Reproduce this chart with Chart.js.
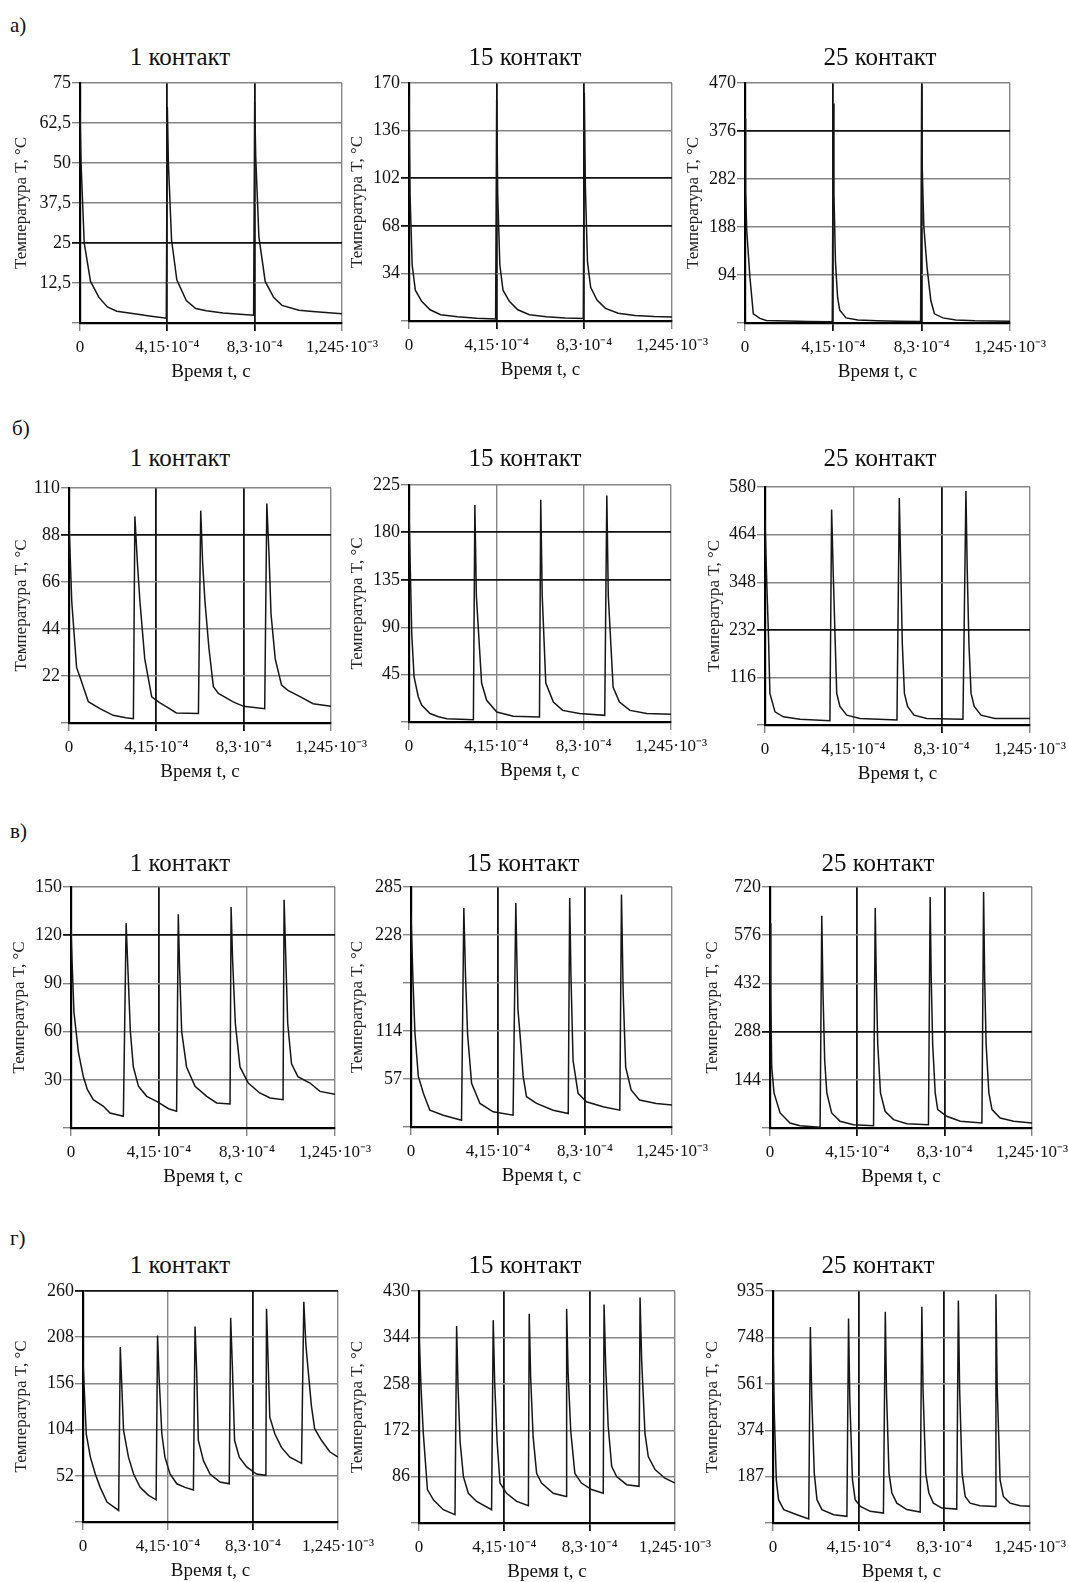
<!DOCTYPE html>
<html><head><meta charset="utf-8">
<script src="https://cdn.jsdelivr.net/npm/chart.js@4.4.1/dist/chart.umd.min.js"></script>
<style>
body{margin:0;background:#fff;width:1069px;height:1582px;position:relative;overflow:hidden;font-family:'Liberation Serif','Times New Roman',serif;color:#111}
canvas{position:absolute}
.t{position:absolute;width:240px;text-align:center;font-size:25px;line-height:28px;white-space:nowrap}
.r{position:absolute;font-size:21px;line-height:24px}
</style></head><body>
<div class="r" style="left:10px;top:13px">а)</div>
<div class="r" style="left:12px;top:416px">б)</div>
<div class="r" style="left:10px;top:819px">в)</div>
<div class="r" style="left:10px;top:1226px">г)</div>
<script>
// x axis in units of 10^-4 s
const X_TICKS = [0, 4.15, 8.3, 12.45];
const X_LABELS = ['0', '4,15·10⁻⁴', '8,3·10⁻⁴', '1,245·10⁻³'];
const TITLES = ['1 контакт', '15 контакт', '25 контакт'];

// ---- row а ----
const A1_Y = [0,12.5,25,37.5,50,62.5,75];
const A1_YL = ['','12,5','25','37,5','50','62,5','75'];
const A1 = [[0,66],[0.05,50],[0.2,25],[0.5,13],[0.9,8],[1.3,5],[1.75,3.7],[2.5,3.0],[3.3,2.2],[4.1,1.5],
  [4.15,67.5],[4.2,50],[4.35,26],[4.6,13.5],[5.05,7],[5.5,4.5],[6.0,3.8],[6.8,3.1],[7.6,2.7],[8.25,2.4],
  [8.3,69],[8.35,52],[8.5,27],[8.8,13],[9.2,8],[9.6,5.5],[10.4,4],[11.2,3.5],[12.45,2.9]];
const A2_Y = [0,34,68,102,136,170];
const A2 = [[0,160],[0.05,90],[0.15,40],[0.3,22],[0.6,14],[1.0,8],[1.5,4.5],[2.3,3],[3.2,2],[4.1,1.5],
  [4.15,158],[4.2,90],[4.3,40],[4.45,22],[4.75,14],[5.15,8],[5.7,4.5],[6.5,3],[7.4,2.2],[8.25,1.8],
  [8.3,163],[8.35,95],[8.45,42],[8.6,24],[8.9,15],[9.3,9],[9.9,5.5],[10.7,4],[11.6,3.2],[12.45,2.8]];
const A3_Y = [0,94,188,282,376,470];
const A3 = [[0,400],[0.03,260],[0.08,182],[0.23,90],[0.39,18],[0.7,9],[1.0,5],[2,4],[3,3],[4.1,2.5],
  [4.15,430],[4.18,250],[4.25,120],[4.35,50],[4.45,25],[4.75,10],[5.3,6],[6.2,4.5],[7.2,3.5],[8.25,3],
  [8.3,465],[8.33,300],[8.4,190],[8.55,110],[8.73,44],[8.9,18],[9.3,10],[9.9,6],[10.8,4.5],[12.45,3.5]];

// ---- row б ----
const B1_Y = [0,22,44,66,88,110];
const B1 = [[0,94],[0.13,57],[0.36,26],[0.52,21.5],[0.92,10],[1.47,6.7],[2.1,3.6],[2.7,2.5],[3.06,2],
  [3.13,96.7],[3.25,75],[3.37,57],[3.6,30],[3.93,12.2],[4.3,9.5],[4.64,7.5],[5.1,4.7],[6.15,4.4],
  [6.26,99.4],[6.35,75],[6.46,57],[6.65,35],[6.86,17],[7.1,13.8],[7.8,9.9],[8.3,7.8],[9.3,6.7],
  [9.4,102.7],[9.5,80],[9.6,51],[9.8,30],[10.1,17.7],[10.4,15.3],[11,12.2],[11.6,9],[12.45,7.8]];
const B2_Y = [0,45,90,135,180,225];
const B2 = [[0,201],[0.13,84],[0.24,43],[0.44,24],[0.6,16],[1.0,8],[1.4,5],[1.8,3.2],[3.06,2.2],
  [3.13,206],[3.2,120],[3.45,37],[3.69,20.6],[4.17,9.5],[4.96,5.4],[6.2,4.8],
  [6.26,211],[6.33,120],[6.5,37],[6.86,19],[7.3,11],[8.1,8],[9.3,6.3],
  [9.4,215],[9.47,120],[9.7,33],[10.0,19],[10.5,11],[11.3,8],[12.45,7.3]];
const B3_Y = [0,116,232,348,464,580];
const B3 = [[0,500],[0.08,350],[0.16,224],[0.23,77],[0.47,32],[0.86,20],[1.64,14],[3.05,10.6],
  [3.13,525],[3.2,380],[3.3,200],[3.37,77],[3.52,45],[3.84,24],[4.46,16],[6.2,12],
  [6.31,553],[6.38,380],[6.45,200],[6.55,77],[6.7,45],[7.0,24],[7.6,16],[9.3,14],
  [9.44,570],[9.5,380],[9.58,200],[9.68,77],[9.83,45],[10.15,24],[10.8,16],[12.45,16]];

// ---- row в ----
const V1_Y = [0,30,60,90,120,150];
const V1 = [[0,123],[0.06,100],[0.14,72],[0.35,47],[0.58,32],[0.77,24],[1.05,17.6],[1.53,13.5],[1.84,9.3],[2.47,7.3],
  [2.6,127.5],[2.68,100],[2.8,60],[2.94,38],[3.18,26],[3.57,19.7],[4.04,16.6],[4.6,12],[4.98,10.4],
  [5.06,133],[5.12,100],[5.22,60],[5.45,38],[5.85,26],[6.4,19.7],[6.87,15.6],[7.5,15],
  [7.55,137.5],[7.62,105],[7.75,65],[7.97,38],[8.36,28],[8.9,21.8],[9.39,18.7],[10.0,17.6],
  [10.05,142],[10.12,110],[10.22,65],[10.4,40],[10.7,32],[11.27,28],[11.74,22.8],[12.45,21]];
const V2_Y = [0,57,114,171,228,285];
const V2_YL = ['','57','114','','228','285'];
const V2 = [[0,252],[0.1,170],[0.19,111],[0.35,60],[0.59,40],[0.9,20],[1.54,14],[2.41,8],
  [2.52,260],[2.6,180],[2.7,110],[2.89,52],[3.29,28],[3.92,18],[4.87,14],
  [5.0,266],[5.05,200],[5.1,140],[5.2,110],[5.35,60],[5.51,36],[5.99,28],[6.78,20],[7.5,16],
  [7.57,272],[7.63,180],[7.73,79],[7.97,40],[8.37,30],[9.16,24],[9.96,20],
  [10.04,276],[10.12,160],[10.24,71],[10.5,44],[10.9,32],[11.7,28],[12.45,26]];
const V3_Y = [0,144,288,432,576,720];
const V3 = [[0,612],[0.04,400],[0.08,184],[0.19,105],[0.48,45],[0.95,15],[1.43,7],[2.38,2],
  [2.46,634],[2.52,400],[2.6,200],[2.7,105],[2.93,45],[3.33,20],[3.97,10],[4.92,7],
  [5.0,657],[5.05,450],[5.12,250],[5.25,105],[5.47,50],[5.87,25],[6.5,13],[7.53,10],
  [7.61,690],[7.66,450],[7.73,250],[7.85,105],[7.97,55],[8.4,35],[9.04,20],[10.07,15],
  [10.15,705],[10.2,450],[10.27,250],[10.4,105],[10.55,55],[10.94,30],[11.58,20],[12.45,15]];

// ---- row г ----
const G1_Y = [0,52,104,156,208,260];
const G1 = [[0,182],[0.08,140],[0.16,99],[0.36,73],[0.6,54],[0.84,39],[1.17,22.5],[1.74,13],
  [1.82,197],[1.9,150],[1.98,103],[2.22,73],[2.47,54],[2.79,39],[3.2,30],[3.57,25],
  [3.64,210],[3.72,160],[3.85,99],[4.0,73],[4.25,54],[4.58,43],[4.98,39],[5.39,36],
  [5.47,220],[5.55,170],[5.63,92],[5.88,69],[6.2,54],[6.69,45],[7.14,43],
  [7.21,230],[7.3,170],[7.4,92],[7.63,73],[7.99,62],[8.47,54],[8.93,52.5],
  [8.96,240],[9.04,180],[9.12,118],[9.37,99],[9.69,84],[10.1,73],[10.67,66],
  [10.78,248],[10.88,200],[11.0,169],[11.15,131],[11.31,105],[11.64,92],[12.05,79],[12.45,73]];
const G2_Y = [0,86,172,258,344,430];
const G2 = [[0,354],[0.1,250],[0.21,166],[0.41,62],[0.7,43],[1.18,24.6],[1.75,15.4],
  [1.83,365],[1.9,250],[2.0,150],[2.16,86],[2.4,55],[2.8,40],[3.53,24.6],
  [3.61,376],[3.68,260],[3.8,150],[3.94,74],[4.26,55],[4.75,40],[5.32,32],
  [5.36,388],[5.43,270],[5.55,160],[5.72,92],[5.96,74],[6.53,55],[7.15,49],
  [7.18,397],[7.25,280],[7.38,170],[7.58,92],[7.9,74],[8.39,62],[8.96,55],
  [9.0,405],[9.08,290],[9.2,180],[9.37,105],[9.61,86],[10.1,71],[10.7,68],
  [10.75,418],[10.83,300],[10.99,166],[11.15,123],[11.48,99],[11.96,83],[12.45,74]];
const G3_Y = [0,187,374,561,748,935];
const G3 = [[0,740],[0.06,450],[0.16,174],[0.27,94],[0.52,54],[1.16,33.5],[1.73,16],
  [1.81,790],[1.88,500],[2.0,200],[2.13,94],[2.37,54],[2.94,33.5],[3.58,27],
  [3.66,824],[3.72,500],[3.85,174],[3.98,94],[4.23,67],[4.71,47],[5.35,40],
  [5.44,851],[5.5,520],[5.62,200],[5.76,121],[6.0,80],[6.48,54],[7.13,44],
  [7.21,871],[7.27,530],[7.4,200],[7.55,121],[7.77,80],[8.18,60],[8.9,56],
  [8.98,897],[9.04,540],[9.16,200],[9.31,107],[9.55,80],[10.03,70],[10.76,67],
  [10.8,922],[10.86,550],[11.0,174],[11.16,107],[11.48,80],[11.97,70],[12.45,68]];

// layout: plot box [left, top, right, bottom], title centre, y-title gap, darker grid lines
const CHARTS = [
  {data:A1, yt:A1_Y, yl:A1_YL, title:0, box:[80,83,342,323],   tpos:[180,57],   gap:58, dark:{x:[4.15,8.3], y:[25]}},
  {data:A2, yt:A2_Y, title:1, box:[409,83,672,321],  tpos:[525,57],   gap:51, dark:{x:[4.15,8.3], y:[68,102]}},
  {data:A3, yt:A3_Y, title:2, box:[745,83,1010,323], tpos:[880,57],   gap:51, dark:{x:[4.15,8.3], y:[376]}},
  {data:B1, yt:B1_Y, title:0, box:[69,488,331,723],  tpos:[180,458],  gap:47, dark:{x:[4.15,8.3], y:[88]}},
  {data:B2, yt:B2_Y, title:1, box:[409,485,671,722], tpos:[525,458],  gap:51, dark:{x:[], y:[135,180]}},
  {data:B3, yt:B3_Y, title:2, box:[765,487,1030,725],tpos:[880,458],  gap:50, dark:{x:[8.3], y:[232]}},
  {data:V1, yt:V1_Y, title:0, box:[71,887,335,1128], tpos:[180,863],  gap:51, dark:{x:[4.15], y:[120]}},
  {data:V2, yt:V2_Y, yl:V2_YL, title:1, box:[411,887,672,1127], tpos:[523,863], gap:53, dark:{x:[4.15,8.3], y:[]}},
  {data:V3, yt:V3_Y, title:2, box:[770,887,1032,1128],tpos:[878,863], gap:57, dark:{x:[4.15,8.3], y:[288]}},
  {data:G1, yt:G1_Y, title:0, box:[83,1291,338,1522], tpos:[180,1265], gap:61, dark:{x:[8.3], y:[260]}},
  {data:G2, yt:G2_Y, title:1, box:[419,1291,675,1523],tpos:[525,1265], gap:61, dark:{x:[4.15,8.3], y:[]}},
  {data:G3, yt:G3_Y, title:2, box:[773,1291,1030,1523],tpos:[878,1265],gap:60, dark:{x:[4.15,8.3], y:[]}}
];

const FONT = "'Liberation Serif', 'Times New Roman', serif";
const has = (arr, v) => arr.some(d => Math.abs(d - v) < 1e-6);
const PT = 12, PR = 50, YW = 80, XH = 60;

CHARTS.forEach(c => {
  const [L, T, R, B] = c.box;
  const W = (R - L) + YW + PR, H = (B - T) + PT + XH;
  const cv = document.createElement('canvas');
  cv.width = W; cv.height = H;
  cv.style.left = (L - YW) + 'px'; cv.style.top = (T - PT) + 'px';
  cv.style.width = W + 'px'; cv.style.height = H + 'px';
  document.body.appendChild(cv);
  const t = document.createElement('div');
  t.className = 't'; t.textContent = TITLES[c.title];
  t.style.left = (c.tpos[0] - 120) + 'px'; t.style.top = (c.tpos[1] - 14) + 'px';
  document.body.appendChild(t);
  const yl = c.yl || c.yt.map(v => v === 0 ? '' : String(v).replace('.', ','));
  const gridC = arr => ctx => (ctx.tick && has(arr, ctx.tick.value)) ? '#111' : '#858585';
  const gridW = arr => ctx => (ctx.tick && has(arr, ctx.tick.value)) ? 1.8 : 1.4;
  new Chart(cv, {
    type: 'line',
    data: {datasets: [{data: c.data, borderColor: '#161616', borderWidth: 1.5, pointRadius: 0, tension: 0, fill: false}]},
    options: {
      responsive: false, animation: false, devicePixelRatio: 1,
      layout: {padding: {left: 0, top: PT, right: PR, bottom: 0}},
      plugins: {legend: {display: false}, tooltip: {enabled: false}},
      scales: {
        x: {
          type: 'linear', min: 0, max: 12.45,
          afterBuildTicks: s => { s.ticks = X_TICKS.map(v => ({value: v})); },
          afterFit: s => { s.height = XH; s.paddingLeft = 0; s.paddingRight = 0; },
          ticks: {autoSkip: false, maxRotation: 0, minRotation: 0, padding: 6, color: '#111',
                  font: {family: FONT, size: 17}, callback: (v, i) => X_LABELS[i]},
          grid: {color: gridC(c.dark.x), lineWidth: gridW(c.dark.x), tickLength: 8},
          border: {color: '#000', width: 2.2},
          title: {display: true, text: 'Время t, с', color: '#111', font: {family: FONT, size: 19}, padding: {top: 0, bottom: 0}}
        },
        y: {
          type: 'linear', min: 0, max: c.yt[c.yt.length - 1],
          afterBuildTicks: s => { s.ticks = c.yt.map(v => ({value: v})); },
          afterFit: s => { s.width = YW; s.paddingTop = 0; s.paddingBottom = 0; },
          ticks: {autoSkip: false, padding: 1, color: '#111', font: {family: FONT, size: 18}, callback: (v, i) => yl[i]},
          grid: {color: gridC(c.dark.y), lineWidth: gridW(c.dark.y), tickLength: 8},
          border: {color: '#000', width: 2.2},
          title: {display: true, text: 'Температура T, °C', color: '#222', font: {family: FONT, size: 17},
                  padding: {top: Math.max(0, 69.8 - c.gap), bottom: 0}}
        }
      }
    }
  });
});
</script></body></html>
